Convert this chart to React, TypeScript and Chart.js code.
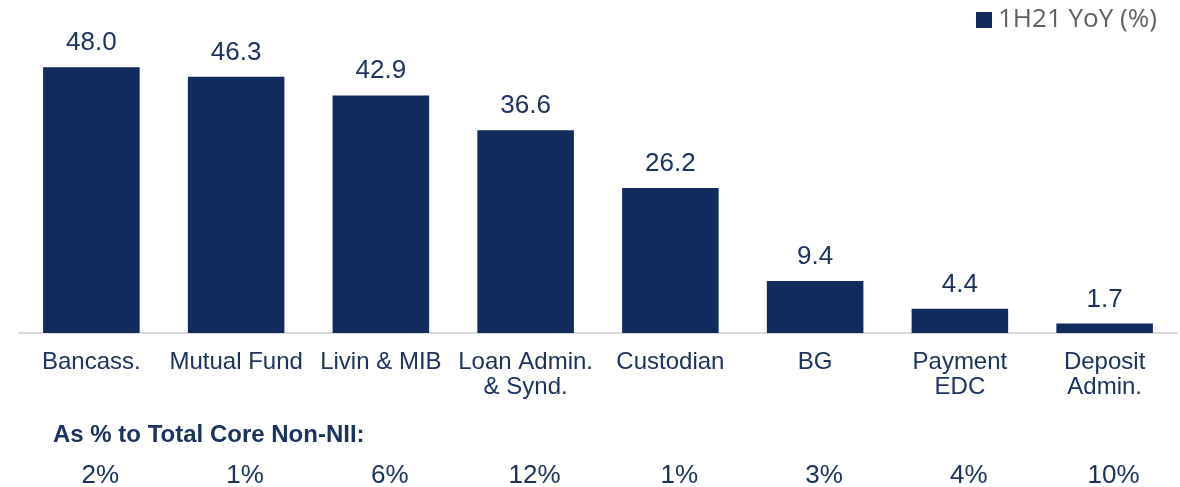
import React, { useEffect, useRef } from "react";
import { Chart, registerables } from "chart.js";

Chart.register(...registerables);

const categories: string[][] = [
  ["Bancass."],
  ["Mutual Fund"],
  ["Livin & MIB"],
  ["Loan Admin.", "& Synd."],
  ["Custodian"],
  ["BG"],
  ["Payment", "EDC"],
  ["Deposit", "Admin."],
];
const yoyValues: number[] = [48.0, 46.3, 42.9, 36.6, 26.2, 9.4, 4.4, 1.7];
const shareOfCore: string[] = ["2%", "1%", "6%", "12%", "1%", "3%", "4%", "10%"];
const seriesLabel = "1H21 YoY (%)";
const footerTitle = "As % to Total Core Non-NII:";

const NAVY = "#112b5c";
const TEXT = "#1c3360";
const FONT = "'Liberation Sans', Arial, sans-serif";

const overlayPlugin = {
  id: "overlay",
  afterDatasetsDraw(chart: any) {
    const ctx = chart.ctx;
    const meta = chart.getDatasetMeta(0);
    const xs = chart.scales.x;
    ctx.save();
    // value labels
    ctx.fillStyle = TEXT;
    ctx.font = `26px ${FONT}`;
    ctx.textAlign = "center";
    ctx.textBaseline = "alphabetic";
    meta.data.forEach((bar: any, i: number) => {
      const v = chart.data.datasets[0].data[i] as number;
      ctx.fillText(v.toFixed(1), bar.x, bar.y - 17);
    });
    // footer title
    ctx.font = `bold 24px ${FONT}`;
    ctx.textAlign = "left";
    ctx.fillText(footerTitle, 53, 442);
    // footer row
    ctx.font = `26px ${FONT}`;
    ctx.textAlign = "center";
    shareOfCore.forEach((s, i) => {
      ctx.fillText(s, xs.getPixelForValue(i) + 9, 483);
    });
    // legend
    ctx.fillStyle = NAVY;
    ctx.fillRect(976, 12, 16, 16);
    ctx.fillStyle = "#5f5f5f";
    ctx.font = `26px 'Open Sans', 'Noto Sans', sans-serif`;
    ctx.textAlign = "left";
    ctx.textBaseline = "middle";
    ctx.fillText(chart.data.datasets[0].label, 998, 20);
    ctx.restore();
  },
};

export default function App() {
  const ref = useRef<HTMLCanvasElement>(null);
  useEffect(() => {
    if (!ref.current) return;
    const chart = new Chart(ref.current, {
      type: "bar",
      data: {
        labels: categories,
        datasets: [
          {
            label: seriesLabel,
            data: yoyValues,
            backgroundColor: NAVY,
            barPercentage: 0.667,
            categoryPercentage: 1,
          },
        ],
      },
      options: {
        responsive: false,
        animation: false,
        layout: { padding: { top: 34, left: 19, right: 3, bottom: 0 } },
        plugins: {
          legend: { display: false },
          tooltip: { enabled: false },
        },
        scales: {
          x: {
            grid: { display: false, drawTicks: false },
            border: { display: true, color: "#d9d9d9", width: 2 },
            ticks: {
              color: TEXT,
              font: { family: FONT, size: 24, lineHeight: 1.05 },
              padding: 17,
              maxRotation: 0,
              autoSkip: false,
            },
            afterFit(scale: any) {
              scale.height = 154;
            },
          },
          y: {
            display: false,
            min: 0,
            max: 54,
          },
        },
      },
      plugins: [overlayPlugin],
    });
    return () => chart.destroy();
  }, []);
  return (
    <div style={{ position: "fixed", top: 0, left: 0, width: 1180, height: 487, background: "#fff" }}>
      <canvas ref={ref} width={1180} height={487} />
    </div>
  );
}
